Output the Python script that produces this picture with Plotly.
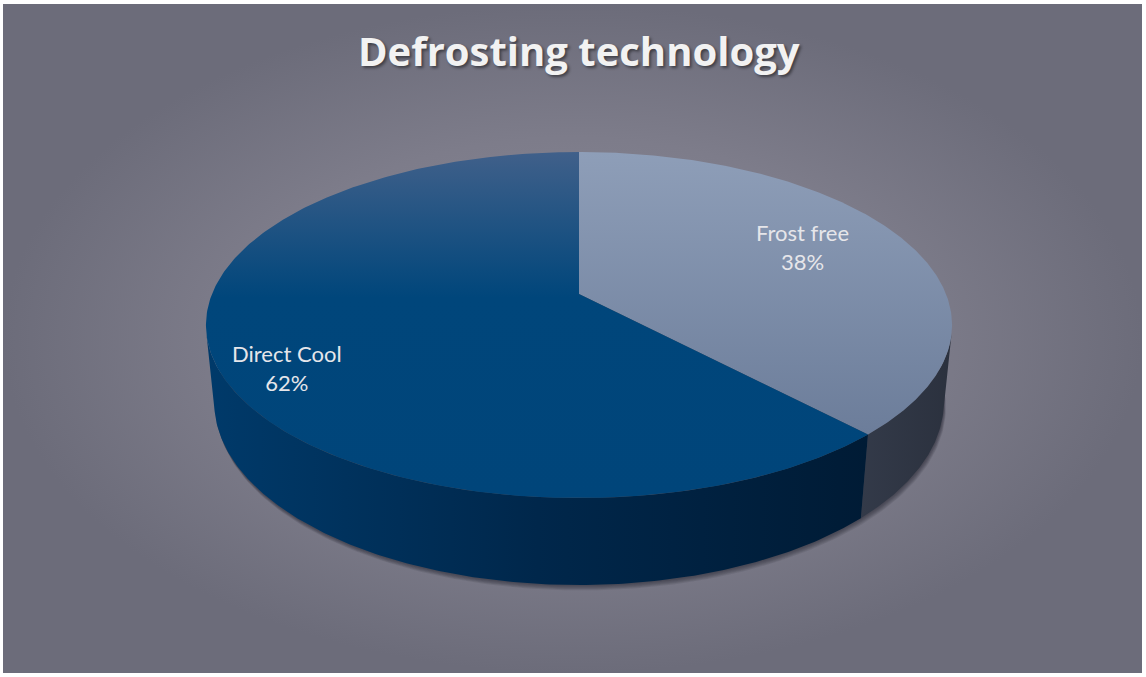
import numpy as np
import plotly.graph_objects as go

# ---- data ----
labels = ["Frost free", "Direct Cool"]
shares = [38, 62]          # percent

# ---- styling ----
top_scales = [
    [[0, "#8e9eb8"], [1, "#6c7d9a"]],
    [[0, "#40608a"], [0.42, "#00467b"], [1, "#00457a"]],
]
side_scales = [
    [[0, "#333a49"], [1, "#2b313e"]],
    [[0, "#003a6a"], [0.5, "#00274b"], [1, "#001b35"]],
]
label_pos = [(802, 247), (287, 368)]

W, H = 1146, 677

# perspective camera for the 3-D disk
CX, CY = 579.0, 294.0
FOCAL = 1822.6
DIST = 4.966
TILT = np.radians(27.15)
DEPTH = 0.238


def project(a, r=1.0, y=0.0):
    """Project a point on the disk (clockwise angle a from the back) to screen pixels."""
    X = r * np.sin(a)
    Z = -r * np.cos(a)
    c, s = np.cos(TILT), np.sin(TILT)
    up = y * c - Z * s
    d = DIST - (Z * c + y * s)
    return CX + FOCAL * X / d, CY - FOCAL * up / d


fig = go.Figure()

# background panel with radial shading
fig.add_trace(go.Scatter(
    x=[3, W - 4, W - 4, 3, 3], y=[4, 4, H - 4, H - 4, 4],
    mode="lines", line=dict(width=0), fill="toself",
    fillgradient=dict(type="radial", colorscale=[[0, "#8b8a98"], [0.6, "#7d7c8a"], [1, "#6c6c7a"]]),
    hoverinfo="skip", showlegend=False,
))

# soft drop shadow under the disk
ring = np.linspace(0, 2 * np.pi, 361)
bx, by = project(ring, y=-DEPTH)
for k in range(6, 0, -1):
    fig.add_trace(go.Scatter(
        x=bx + 0.35 * k, y=by + 0.9 * k, mode="lines", line=dict(width=0),
        fill="toself", fillcolor="rgba(25,25,35,0.10)",
        hoverinfo="skip", showlegend=False,
    ))

# slice angle ranges
fr = np.array(shares, dtype=float) / sum(shares)
edges = np.concatenate([[0], np.cumsum(fr)]) * 2 * np.pi
a_front = np.arccos(-1.0 / (DIST * np.cos(TILT)))   # first side angle facing the viewer
a_back = 2 * np.pi - a_front

# side walls
for i in range(len(shares)):
    lo, hi = max(edges[i], a_front), min(edges[i + 1], a_back)
    if hi <= lo:
        continue
    t = np.linspace(lo, hi, 200)
    tx, ty = project(t)
    bx2, by2 = project(t[::-1], y=-DEPTH)
    xs = np.concatenate([tx, bx2, tx[:1]])
    ys = np.concatenate([ty, by2, ty[:1]])
    fig.add_trace(go.Scatter(
        x=xs, y=ys, mode="lines", line=dict(width=0), fill="toself",
        fillgradient=dict(type="horizontal", colorscale=side_scales[i],
                          start=float(xs.min()), stop=float(xs.max())),
        hoverinfo="skip", showlegend=False,
    ))

# top faces
for i in range(len(shares)):
    t = np.linspace(edges[i], edges[i + 1], 300)
    tx, ty = project(t)
    ox, oy = project(0.0, r=0.0)
    xs = np.concatenate([[ox], tx, [ox]])
    ys = np.concatenate([[oy], ty, [oy]])
    fig.add_trace(go.Scatter(
        x=xs, y=ys, mode="lines", line=dict(width=0), fill="toself",
        fillgradient=dict(type="vertical", colorscale=top_scales[i],
                          start=float(ys.min()), stop=float(ys.max())),
        hoverinfo="skip", showlegend=False,
    ))

# data labels
for name, val, (lx, ly) in zip(labels, shares, label_pos):
    fig.add_annotation(
        x=lx, y=ly, text=f"{name}<br>{val}%", showarrow=False,
        font=dict(family="Lato", size=22, color="#e6e6ea"),
        xanchor="center", yanchor="middle", align="center",
    )

fig.update_layout(
    width=W, height=H,
    margin=dict(l=0, r=0, t=0, b=0),
    paper_bgcolor="white", plot_bgcolor="white",
    title=dict(
        text="<b>Defrosting technology</b>",
        x=0.505, xanchor="center", y=1 - 52 / H, yanchor="middle", yref="container",
        font=dict(family="Open Sans", size=40, color="#f2f2f2",
                  shadow="2px 2px 3px rgba(0,0,0,0.45)"),
    ),
    xaxis=dict(range=[0, W], visible=False, fixedrange=True),
    yaxis=dict(range=[H, 0], visible=False, fixedrange=True),
    showlegend=False,
)

fig.write_html("out.html")
